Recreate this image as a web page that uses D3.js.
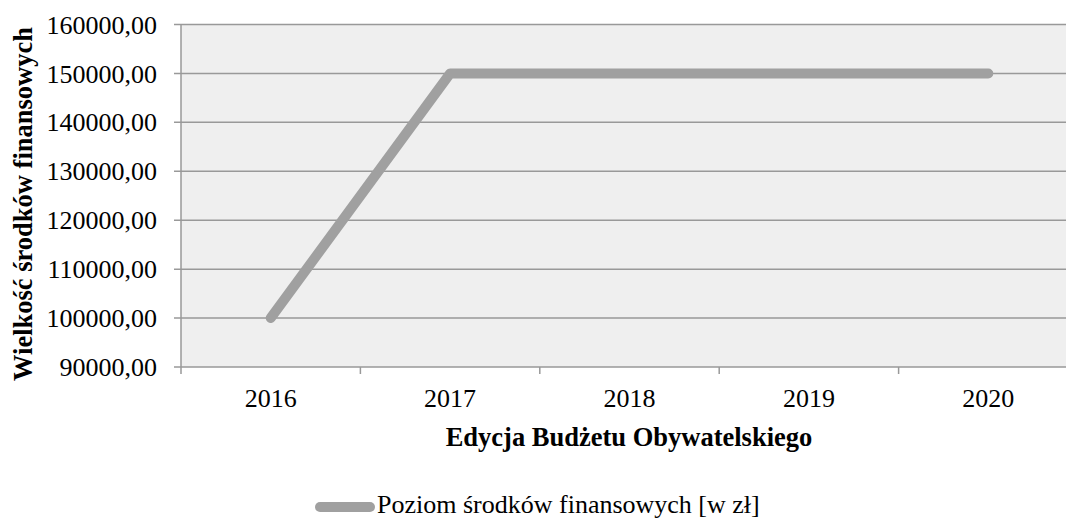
<!DOCTYPE html>
<html><head><meta charset="utf-8">
<script src="https://cdn.jsdelivr.net/npm/d3@7"></script>
<style>body{margin:0;background:#fff}svg{display:block}</style>
</head><body><svg id="c" width="1066" height="521"></svg>
<script>
const years = ["2016","2017","2018","2019","2020"];
const values = [100000,150000,150000,150000,150000];
const yTicks = [90000,100000,110000,120000,130000,140000,150000,160000];
const seriesName = "Poziom środków finansowych [w zł]";
const xTitle = "Edycja Budżetu Obywatelskiego";
const yTitle = "Wielkość środków finansowych";

const FONT = "Liberation Serif";
const svg = d3.select("#c");
const L=181, R=1078, T=24.5, B=367;
const x = d3.scaleBand().domain(years).range([L,R]);
const y = d3.scaleLinear().domain([90000,160000]).range([B,T]);

svg.append("rect").attr("x",L).attr("y",T).attr("width",R-L).attr("height",B-T).attr("fill","#efefef");
svg.append("g").selectAll("line").data(yTicks).join("line")
  .attr("x1",L-7).attr("x2",R).attr("y1",d=>y(d)).attr("y2",d=>y(d))
  .attr("stroke","#999").attr("stroke-width",1.5);
svg.append("line").attr("x1",L).attr("x2",L).attr("y1",T).attr("y2",B+7).attr("stroke","#999").attr("stroke-width",1.5);
const bounds = years.map(d=>x(d)).concat([R]);
svg.append("g").selectAll("line").data(bounds.slice(1)).join("line")
  .attr("x1",d=>d).attr("x2",d=>d).attr("y1",B).attr("y2",B+7).attr("stroke","#999").attr("stroke-width",1.5);

svg.append("g").selectAll("text").data(yTicks).join("text")
  .attr("x",L-24).attr("y",d=>y(d)).attr("dy","0.35em").attr("text-anchor","end")
  .attr("font-family",FONT).attr("font-size",26).text(d=>d3.format("d")(d)+",00");
svg.append("g").selectAll("text").data(years).join("text")
  .attr("x",d=>x(d)+x.bandwidth()/2).attr("y",B+40).attr("text-anchor","middle")
  .attr("font-family",FONT).attr("font-size",26).text(d=>d);

const line = d3.line().x((d,i)=>x(years[i])+x.bandwidth()/2).y(d=>y(d));
svg.append("path").datum(values).attr("d",line).attr("fill","none")
  .attr("stroke","#a0a0a0").attr("stroke-width",10).attr("stroke-linecap","round").attr("stroke-linejoin","round");

svg.append("text").attr("x",629).attr("y",446).attr("text-anchor","middle")
  .attr("font-family",FONT).attr("font-size",26.5).attr("font-weight","bold").text(xTitle);
svg.append("text").attr("transform","translate(32,204) rotate(-90)").attr("text-anchor","middle")
  .attr("font-family",FONT).attr("font-size",26.5).attr("font-weight","bold").text(yTitle);

svg.append("line").attr("x1",320).attr("x2",370).attr("y1",507).attr("y2",507)
  .attr("stroke","#a0a0a0").attr("stroke-width",10).attr("stroke-linecap","round");
svg.append("text").attr("x",377).attr("y",513).attr("font-family",FONT).attr("font-size",26).text(seriesName);
</script></body></html>
